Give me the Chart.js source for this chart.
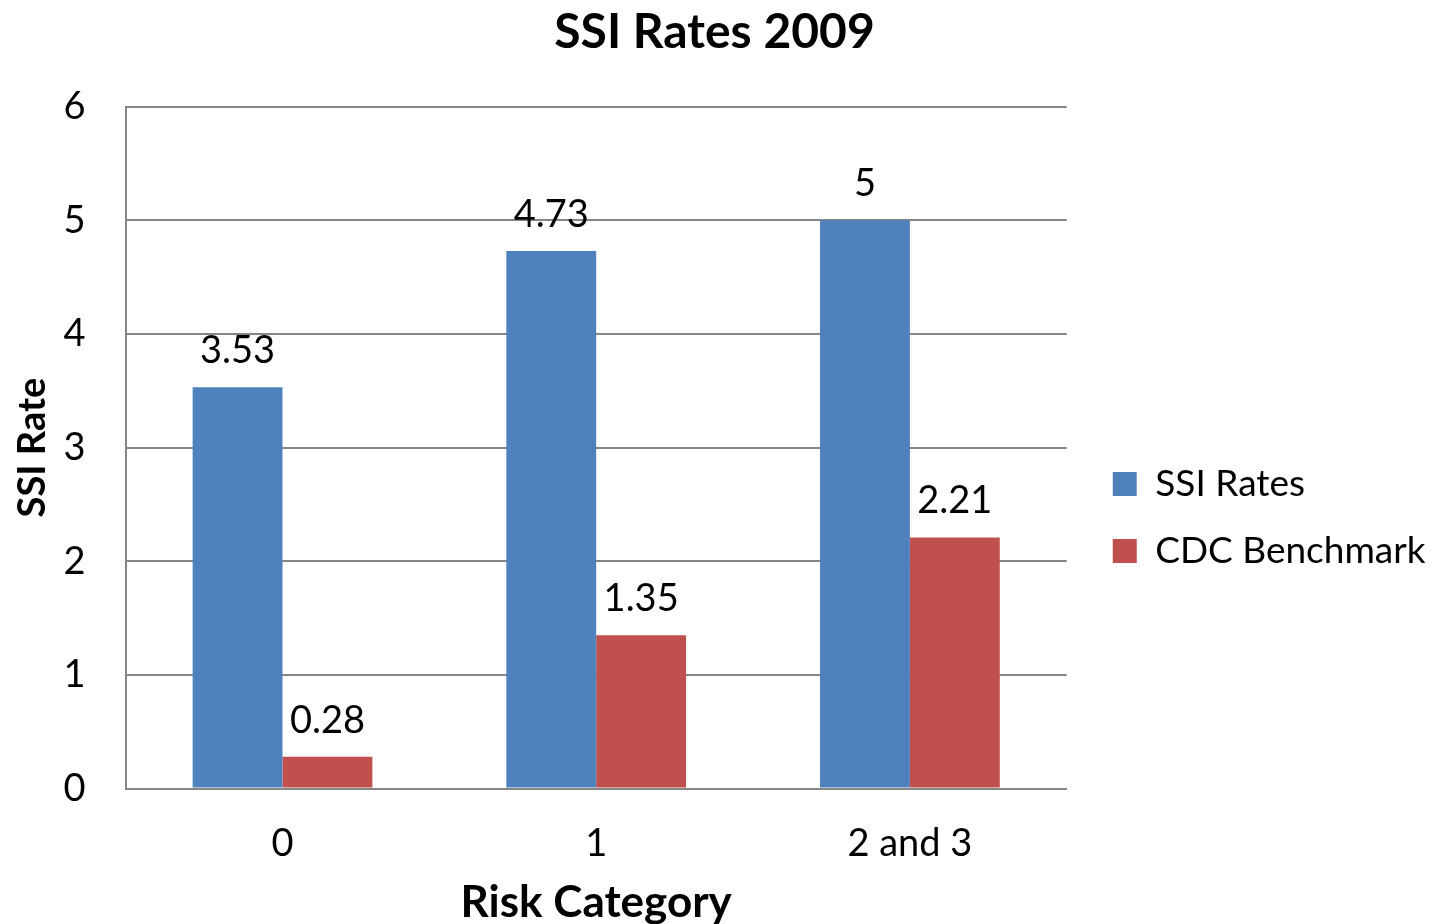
<!DOCTYPE html>
<html>
<head>
<meta charset="utf-8">
<script src="https://cdn.jsdelivr.net/npm/chart.js@4/dist/chart.umd.min.js"></script>
<style>
  html, body { margin: 0; padding: 0; background: #fff; }
  #wrap { width: 1435px; height: 924px; }
</style>
</head>
<body>
<div id="wrap"><canvas id="ssiChart" width="1435" height="924"></canvas></div>
<script>
var categories = ['0', '1', '2 and 3'];
var ssiRates = [3.53, 4.73, 5];
var cdcBenchmark = [0.28, 1.35, 2.21];
var yTicks = [0, 1, 2, 3, 4, 5, 6];

var fontFamily = 'Lato, "Open Sans", sans-serif';

// draws the value above each bar
var valueLabels = {
    id: 'valueLabels',
    afterDatasetsDraw: function (chart) {
        var ctx = chart.ctx;
        ctx.save();
        ctx.fillStyle = '#000';
        ctx.font = '38px ' + fontFamily;
        ctx.textAlign = 'center';
        ctx.textBaseline = 'alphabetic';
        chart.data.datasets.forEach(function (ds, i) {
            chart.getDatasetMeta(i).data.forEach(function (bar, j) {
                ctx.fillText(String(ds.data[j]), bar.x, bar.y - 24);
            });
        });
        ctx.restore();
    }
};

// nudge the legend a bit right and down, like the original
var legendShift = {
    id: 'legendShift',
    afterLayout: function (chart) {
        var lg = chart.legend;
        if (!lg) return;
        var dx = 16, dy = 51;
        lg.left += dx; lg.right += dx;
        lg.top += dy; lg.bottom += dy;
        if (lg.legendHitBoxes) {
            lg.legendHitBoxes.forEach(function (b) { b.left += dx; b.top += dy; });
        }
    }
};

var ctx = document.getElementById('ssiChart').getContext('2d');
var ssiChart = new Chart(ctx, {
    type: 'bar',
    data: {
        labels: categories,
        datasets: [{
            label: 'SSI Rates',
            data: ssiRates,
            backgroundColor: '#4f81bd',
            borderWidth: 0
        }, {
            label: 'CDC Benchmark',
            data: cdcBenchmark,
            backgroundColor: '#c0504d',
            borderWidth: 0
        }]
    },
    options: {
        responsive: false,
        animation: false,
        layout: { padding: { top: 4, right: 16, left: 10, bottom: -5 } },
        datasets: { bar: { barPercentage: 1, categoryPercentage: 0.573 } },
        plugins: {
            title: {
                display: true,
                text: 'SSI Rates 2009',
                color: '#000',
                font: { family: fontFamily, size: 48, weight: 'bold' },
                padding: { top: 0, bottom: 45 }
            },
            legend: {
                position: 'right',
                labels: {
                    color: '#000',
                    font: { family: fontFamily, size: 37 },
                    boxWidth: 24,
                    boxHeight: 24,
                    padding: 30
                }
            },
            tooltip: { enabled: false }
        },
        scales: {
            x: {
                grid: { display: false, drawTicks: false },
                border: { color: '#868686', width: 2 },
                ticks: {
                    color: '#000',
                    padding: 32,
                    font: { family: fontFamily, size: 38 }
                },
                title: {
                    display: true,
                    text: 'Risk Category',
                    color: '#000',
                    font: { family: fontFamily, size: 44, weight: 'bold' },
                    padding: { top: -22, bottom: 0 }
                }
            },
            y: {
                min: 0,
                max: 6,
                afterBuildTicks: function (axis) {
                    axis.ticks = yTicks.map(function (v) { return { value: v }; });
                },
                grid: { color: '#868686', lineWidth: 2, drawTicks: false },
                border: { color: '#868686', width: 2 },
                ticks: {
                    color: '#000',
                    padding: 40,
                    font: { family: fontFamily, size: 38 }
                },
                title: {
                    display: true,
                    text: 'SSI Rate',
                    color: '#000',
                    font: { family: fontFamily, size: 38, weight: 'bold' },
                    padding: { top: 0, bottom: -32 }
                }
            }
        }
    },
    plugins: [valueLabels, legendShift]
});
</script>
</body>
</html>
